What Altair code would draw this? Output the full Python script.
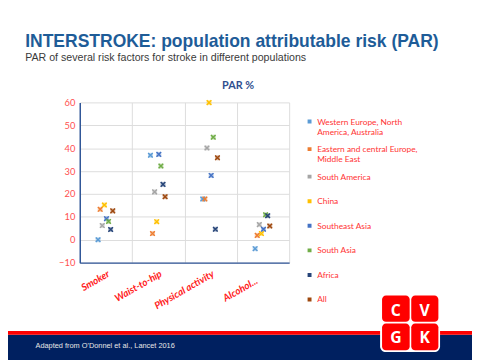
import json
import altair as alt
import pandas as pd

# ---------------- data ----------------
categories = ["Smoker", "Waist-to-hip", "Physical activity", "Alcohol..."]
series = [
    "Western Europe, North America, Australia",
    "Eastern and central Europe, Middle East",
    "South America",
    "China",
    "Southeast Asia",
    "South Asia",
    "Africa",
    "All",
]
colors = ["#5B9BD5", "#ED7D31", "#A5A5A5", "#FFC000", "#4472C4", "#70AD47", "#264478", "#9E480E"]

western = [0.0, 36.9, 17.8, -3.9]
eastern = [13.3, 2.7, 17.8, 1.9]
south_america = [6.2, 20.9, 40.1, 6.6]
china = [15.2, 7.9, 59.9, 2.7]
southeast_asia = [9.2, 37.3, 28.1, 4.6]
south_asia = [8.0, 32.2, 44.8, 10.9]
africa = [4.5, 24.2, 4.6, 10.5]
all_pop = [12.6, 18.8, 35.8, 6.0]
y_ticks = [-10, 0, 10, 20, 30, 40, 50, 60]

values = [western, eastern, south_america, china, southeast_asia, south_asia, africa, all_pop]
rows = []
for j, (name, vals) in enumerate(zip(series, values)):
    for i, (cat, v) in enumerate(zip(categories, vals)):
        rows.append({"series": name, "factor": cat, "par": v, "pos": i + 0.35 + 0.04 * j})
df = pd.DataFrame(rows)

# ---------------- layout helpers ----------------
X0, Y0 = 81, 101  # plot origin on the page
W, H = 213, 163
one = pd.DataFrame({"k": [0]})


def rx(x):
    return x - X0


def ry(y):
    return y - Y0


def rect(x1, y1, x2, y2, color, radius=0):
    return alt.Chart(one).mark_rect(color=color, cornerRadius=radius).encode(
        x=alt.value(rx(x1)), x2=alt.value(rx(x2)), y=alt.value(ry(y1)), y2=alt.value(ry(y2))
    )


def label(txt, x, y, size, color, weight="normal", align="left", baseline="alphabetic", font="Liberation Sans"):
    return alt.Chart(one).mark_text(
        fontSize=size, color=color, fontWeight=weight, align=align, baseline=baseline, font=font
    ).encode(x=alt.value(rx(x)), y=alt.value(ry(y)), text=alt.value(txt))


# ---------------- decorations ----------------
band = rect(0, 337.3, 490, 370, "#002060")
redline = rect(0, 333.6, 490, 337.3, "#FF0000")
footer = label("Adapted from O'Donnel et al., Lancet 2016", 36, 348.7, 7.5, "#E6E6E6", baseline="middle")
title = label("INTERSTROKE: population attributable risk (PAR)", 25.5, 44.3, 17.8, "#1E5C98", weight="bold")
subtitle = label("PAR of several risk factors for stroke in different populations", 25.5, 59.3, 10.8, "#3A3A3A")
par_title = label("PAR %", 242, 87.7, 11, "#2F4F8F", weight="bold", align="center", font="Lato")

logo_bg = rect(386.5, 295.8, 447.5, 355, "#FFFFFF", radius=6)
cells = [
    rect(388.5, 297.5, 416.6, 324.2, "#FF0000", radius=4),
    rect(418.2, 297.5, 445.8, 324.2, "#FF0000", radius=4),
    rect(388.5, 325.8, 416.6, 353.2, "#FF0000", radius=4),
    rect(418.2, 325.8, 445.8, 353.2, "#FF0000", radius=4),
]
letters = [
    label("C", 402.5, 313.5, 16, "#FFFFFF", weight="bold", align="center", baseline="middle", font="Open Sans"),
    label("V", 431.8, 313.5, 16, "#FFFFFF", weight="bold", align="center", baseline="middle", font="Open Sans"),
    label("G", 402.5, 340.8, 16, "#FFFFFF", weight="bold", align="center", baseline="middle", font="Open Sans"),
    label("K", 431.8, 340.8, 16, "#FFFFFF", weight="bold", align="center", baseline="middle", font="Open Sans"),
]

# ---------------- chart ----------------
cond_half = "datum.value % 1 != 0"
x_axis = alt.Axis(
    values=[0.5, 1, 1.5, 2, 2.5, 3, 3.5, 4],
    title=None,
    ticks=False,
    domainColor="#2F5597",
    domainWidth=1.5,
    grid=True,
    gridColor="#DCDCDC",
    gridOpacity={"condition": {"test": cond_half, "value": 0}, "value": 1},
    labelExpr=f"{cond_half} ? {json.dumps(categories)}[floor(datum.value)] : ''",
    labelAngle=330,
    labelAlign="right",
    labelBaseline="top",
    labelFont="Lato",
    labelFontSize=10,
    labelFontWeight="bold",
    labelFontStyle="italic",
    labelColor="#FF2020",
    labelPadding={"condition": {"test": "datum.value == 3.5", "value": 13}, "value": 6},
    labelOffset={"condition": {"test": "datum.value == 3.5", "value": -9}, "value": 0},
    labelOverlap=False,
    labelFlush=False,
    labelBound=False,
)
y_axis = alt.Axis(
    values=y_ticks,
    title=None,
    ticks=False,
    domainColor="#2F5597",
    domainWidth=1.5,
    grid=True,
    gridColor="#DCDCDC",
    labelFont="Lato",
    labelFontSize=9.5,
    labelColor="#FF4F4F",
    labelPadding=5,
)
xs = alt.X("pos:Q", scale=alt.Scale(domain=[0, 4], nice=False, zero=False), axis=x_axis)
ys = alt.Y("par:Q", scale=alt.Scale(domain=[-10, 60], nice=False), axis=y_axis)
cscale = alt.Scale(domain=series, range=colors)

legend_expr = (
    "datum.label == 'Western Europe, North America, Australia' ? ['Western Europe, North', 'America, Australia'] : "
    "datum.label == 'Eastern and central Europe, Middle East' ? ['Eastern and central Europe,', 'Middle East'] : datum.label"
)
legend = alt.Legend(
    orient="none",
    legendX=229.5,
    legendY=7,
    title=None,
    symbolType="square",
    symbolSize=16,
    symbolStrokeWidth=0,
    symbolOpacity=1,
    labelFont="Lato",
    labelFontSize=8.5,
    labelColor="#FF3333",
    labelOffset=3.5,
    labelLimit=200,
    labelExpr=legend_expr,
    clipHeight=25,
    rowPadding=0,
    padding=0,
)

squares = alt.Chart(df).mark_point(shape="square", filled=True, size=25, opacity=0.4).encode(
    x=xs, y=ys, color=alt.Color("series:N", scale=cscale, legend=legend)
)
crosses = alt.Chart(df).mark_point(
    shape="M-1,-1L1,1M-1,1L1,-1", filled=False, size=22, strokeWidth=1.4, opacity=1
).encode(x=xs, y=ys, color=alt.Color("series:N", scale=cscale, legend=None))

chart = alt.layer(
    band, redline, footer, title, subtitle, par_title, logo_bg, *cells, *letters, squares, crosses
).properties(
    width=W,
    height=H,
    padding={"left": X0 - 8, "top": Y0 - 8, "right": 480 - 8 - (X0 - 8) - W, "bottom": 360 - 8 - (Y0 - 8) - H},
    autosize=alt.AutoSizeParams(type="none"),
    background="#FFFFFF",
).configure_view(stroke=None)

chart.save("out.html", embed_options={"renderer": "svg", "actions": False})
